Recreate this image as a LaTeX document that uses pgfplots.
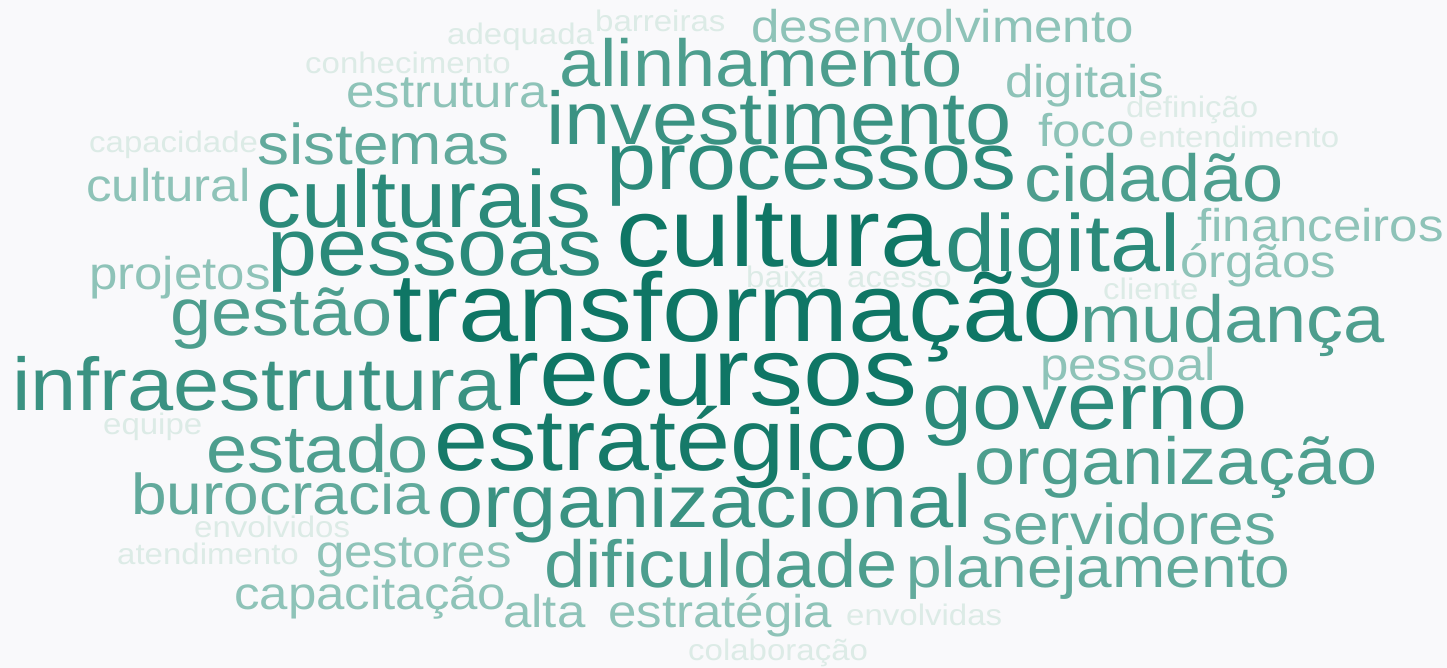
\documentclass[border=0pt]{standalone}
\usepackage{fontspec}
\setmainfont{Liberation Sans}
\usepackage{graphicx}
\usepackage{pgfplots}
\usepackage{pgfplotstable}
\pgfplotsset{compat=1.18}

\definecolor{bg}{HTML}{F9F9FB}
\definecolor{wc1}{HTML}{0F7665}
\definecolor{wc2}{HTML}{167A69}
\definecolor{wc3}{HTML}{2B8A7A}
\definecolor{wc4}{HTML}{3A9282}
\definecolor{wc5}{HTML}{4D9E8E}
\definecolor{wc6}{HTML}{62AA9C}
\definecolor{wc7}{HTML}{8EC3B8}
\definecolor{wc8}{HTML}{DCEBE6}

% word, left edge (px), baseline from top (px); one table per size
\pgfplotstableread{
word x yb
adequada 447 45
barreiras 595 32
conhecimento 305 74
capacidade 89 153
definição 1126 118
entendimento 1139 148
baixa 746 288
acesso 847 288
cliente 1103 300
equipe 103 435
envolvidos 194 538
atendimento 117 565
envolvidas 846 626
colaboração 688 661
}\tierH
\pgfplotstableread{
word x yb
desenvolvimento 751 43
gestores 316 568
capacitação 234 610
estratégia 608 628
alta 503 628
estrutura 346 108
digitais 1005 98
foco 1038 147
cultural 86 202
projetos 89 290
financeiros 1197 242
órgãos 1180 278
pessoal 1040 381
}\tierG
\pgfplotstableread{
word x yb
sistemas 257 165
burocracia 131 515
servidores 981 545
planejamento 906 588
}\tierF
\pgfplotstableread{
word x yb
alinhamento 559 87
gestão 170 336
mudança 1080 343
estado 206 473
organização 974 485
dificuldade 544 588
cidadão 1024 202
}\tierE
\pgfplotstableread{
word x yb
infraestrutura 12 411
organizacional 437 528
investimento 546 145
}\tierD
\pgfplotstableread{
word x yb
pessoas 267 276
culturais 256 228
digital 945 272
processos 606 190
governo 922 430
}\tierC
\pgfplotstableread{
word x yb
estratégico 434 471
}\tierB
\pgfplotstableread{
word x yb
transformação 392 342
recursos 503 406
cultura 616 267
}\tierA

\pgfplotsset{
  wordtier/.style 2 args={draw=none, mark=none,
    point meta=explicit symbolic,
    nodes near coords={\scalebox{1}[0.9]{\pgfplotspointmeta}},
    nodes near coords style={anchor=base west, inner sep=0pt, text=#2,
      font=\fontsize{#1}{#1}\selectfont}},
}

\begin{document}
\begin{tikzpicture}
\begin{axis}[
  width=1447pt, height=668pt, scale only axis,
  xmin=0, xmax=1447, ymin=0, ymax=668,
  hide axis, clip=false,
]
\fill[bg] (rel axis cs:0,0) rectangle (rel axis cs:1,1);
\addplot[wordtier={33}{wc8}] table[x=x, y expr=668-\thisrow{yb}, meta=word] {\tierH};
\addplot[wordtier={51}{wc7}] table[x=x, y expr=668-\thisrow{yb}, meta=word] {\tierG};
\addplot[wordtier={64}{wc6}] table[x=x, y expr=668-\thisrow{yb}, meta=word] {\tierF};
\addplot[wordtier={74}{wc5}] table[x=x, y expr=668-\thisrow{yb}, meta=word] {\tierE};
\addplot[wordtier={83}{wc4}] table[x=x, y expr=668-\thisrow{yb}, meta=word] {\tierD};
\addplot[wordtier={90}{wc3}] table[x=x, y expr=668-\thisrow{yb}, meta=word] {\tierC};
\addplot[wordtier={97}{wc2}] table[x=x, y expr=668-\thisrow{yb}, meta=word] {\tierB};
\addplot[wordtier={108}{wc1}] table[x=x, y expr=668-\thisrow{yb}, meta=word] {\tierA};
\end{axis}
\end{tikzpicture}
\end{document}
